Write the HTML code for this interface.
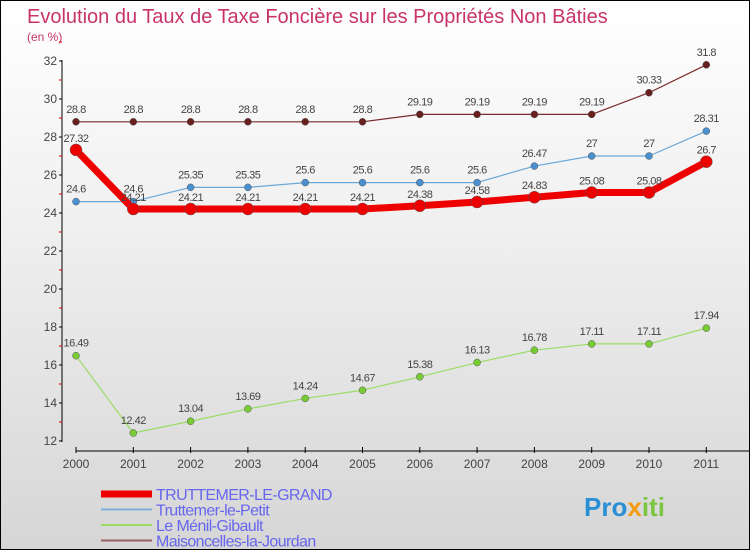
<!DOCTYPE html>
<html><head><meta charset="utf-8"><style>
body{margin:0}
#c{width:748px;height:548px;border:1px solid #000;position:relative;overflow:hidden;background:linear-gradient(#fff 0%,#f0f0f0 40%,#d6d6d6 100%);font-family:"Liberation Sans",sans-serif}
</style></head><body>
<div id="c">
<svg id="s" width="748" height="548">
<text x="26" y="22" font-size="20" fill="#c8336a">Evolution du Taux de Taxe Foncière sur les Propriétés Non Bâties</text>
<text x="26" y="40" font-size="12" fill="#c8336a">(en %)</text>
<g id="axes"></g><g id="series"></g><g id="legend"></g>
</svg></div>
<script>
const years=["2000","2001","2002","2003","2004","2005","2006","2007","2008","2009","2010","2011"];
const grand=[27.32,24.21,24.21,24.21,24.21,24.21,24.38,24.58,24.83,25.08,25.08,26.7];
const petit=[24.6,24.6,25.35,25.35,25.6,25.6,25.6,25.6,26.47,27,27,28.31];
const menil=[16.49,12.42,13.04,13.69,14.24,14.67,15.38,16.13,16.78,17.11,17.11,17.94];
const maison=[28.8,28.8,28.8,28.8,28.8,28.8,29.19,29.19,29.19,29.19,30.33,31.8];
const yTicks=[12,14,16,18,20,22,24,26,28,30,32];
const NS="http://www.w3.org/2000/svg";
const xs=i=>75+i*57.3, ys=v=>440-(v-12)*19;
function mk(t,a,p){const e=document.createElementNS(NS,t);for(const k in a)e.setAttribute(k,a[k]);p.appendChild(e);return e;}
const ax=document.getElementById('axes');
let l=mk('line',{x1:61,y1:59,x2:61,y2:441,stroke:'#000'},ax);


yTicks.forEach(v=>{
 mk('line',{x1:58,x2:61,y1:ys(v),y2:ys(v),stroke:'#000'},ax);
 mk('line',{x1:58,x2:61,y1:ys(v+1),y2:ys(v+1),stroke:'#d00'},ax);
 const t=mk('text',{x:56,y:ys(v)+4,'font-size':12,fill:'#444','text-anchor':'end'},ax);t.textContent=v;
 
 
});
l=mk('line',{x1:75,y1:450,x2:748,y2:450,stroke:'#000'},ax);


years.forEach((y,i)=>{
 mk('line',{x1:xs(i),x2:xs(i),y1:446,y2:452,stroke:'#000'},ax);
 const t=mk('text',{x:xs(i),y:467,'font-size':12,fill:'#444','text-anchor':'middle'},ax);t.textContent=y;
 
 
});
const sg=document.getElementById('series');
function draw(d,col,w,r,pc,name,lblDy){
 const g=mk('g',{},sg);
 
 
 mk('polyline',{points:d.map((v,i)=>xs(i)+','+ys(v)).join(' '),fill:'none',stroke:col,'stroke-width':w,'stroke-linejoin':'round'},g);
 d.forEach((v,i)=>{
  const c=mk('circle',{cx:xs(i),cy:ys(v),r:r,fill:pc,stroke:'#555','stroke-width':0.5},g);
  
  
  const t=mk('text',{x:xs(i),y:ys(v)+lblDy,'font-size':11,fill:'#444','text-anchor':'middle','letter-spacing':'-0.5'},g);t.textContent=v;
  
  
 });
}
draw(maison,'#7a2a2a',1.2,3.5,'#6a1f1f','maisoncelles-series',-9);
draw(petit,'#6aa8d8',1.2,3.5,'#4a90d0','truttemer-petit-series',-9);
draw(grand,'#ee0000',7,6,'#ee0000','truttemer-grand-series',-8);
draw(menil,'#99dd66',1.2,3.5,'#77cc33','menil-series',-9);
const lg=document.getElementById('legend');
[['TRUTTEMER-LE-GRAND','#ee0000',7],['Truttemer-le-Petit','#7aaed8',2],['Le Ménil-Gibault','#99dd66',2],['Maisoncelles-la-Jourdan','#9a6060',2]].forEach((e,i)=>{
 const y=493+i*15.5;
 const g=mk('g',{},lg);
 
 
 mk('line',{x1:100,x2:151,y1:y,y2:y,stroke:e[1],'stroke-width':e[2]},g);
 const t=mk('text',{x:155,y:y+6,'font-size':16,fill:'#6666ee','letter-spacing':'-0.6'},g);t.textContent=e[0];
});
const lo=mk('text',{x:583,y:515,'font-size':26,'font-weight':'bold',fill:'#2b8fd6'},lg);
lo.innerHTML='Pro<tspan fill="#f39c12">x</tspan><tspan fill="#7cc540">iti</tspan>';


</script>
</body></html>
